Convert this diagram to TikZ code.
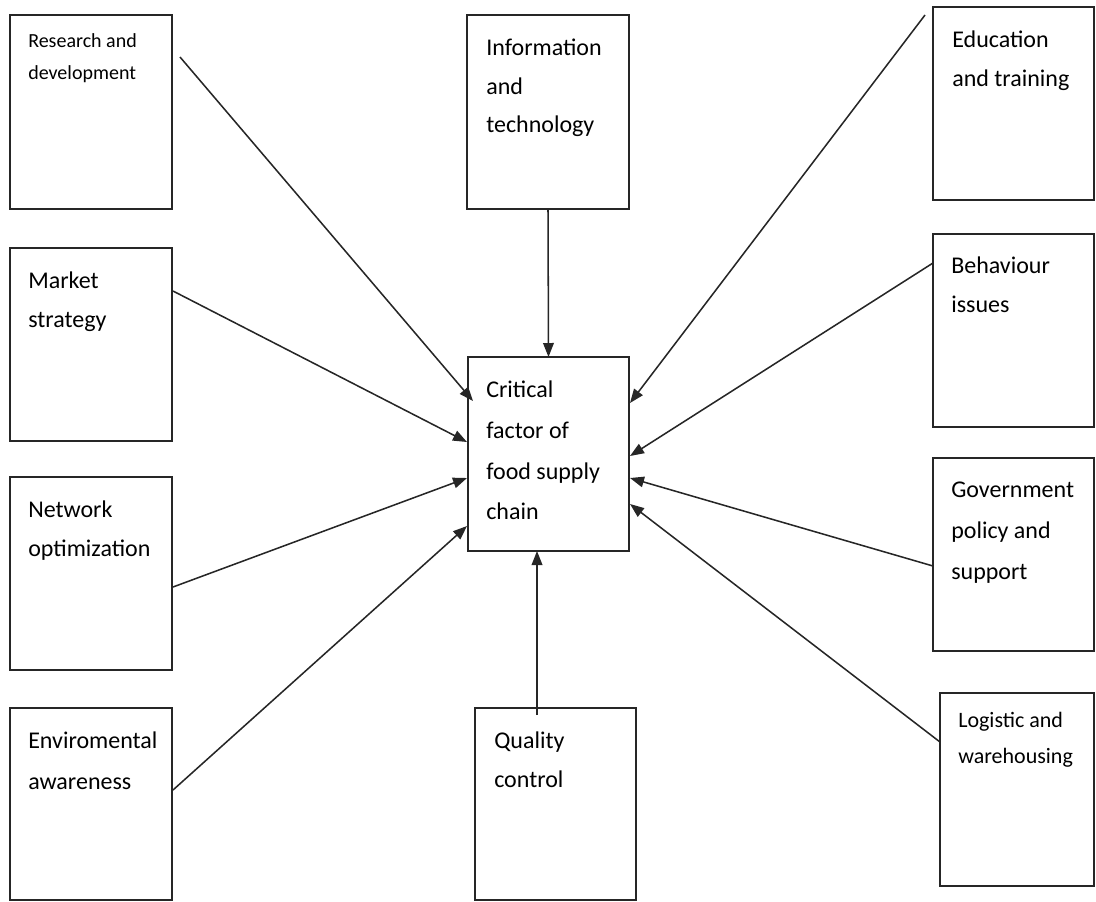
\documentclass[tikz,border=0pt]{standalone}
\usepackage{fontspec}
\setmainfont{Carlito}
\usetikzlibrary{arrows.meta,fit}
\begin{document}
\begin{tikzpicture}[x=0.75pt,y=-0.75pt,
  box/.style={draw=black!85, line width=1.3pt, inner sep=0pt, outer sep=0pt},
  lbl/.style={anchor=north west, inner sep=0pt, align=left, font=\fontsize{18}{29}\selectfont},
  lblsmall/.style={font=\fontsize{15}{24}\selectfont},
  lblmid/.style={font=\fontsize{16.5}{27}\selectfont},
  lblwide/.style={font=\fontsize{18}{30.5}\selectfont},
  arr/.style={draw=black!85, line width=1.15pt, -{Triangle[length=10.5pt,width=8pt]}}]
\useasboundingbox (0,0) rectangle (1096,901);
% boxes
\node[box, fit={(10,15) (172,209)}] (rd) {};
\node[box, fit={(467,15) (629,209)}] (it) {};
\node[box, fit={(933,7) (1094,200)}] (et) {};
\node[box, fit={(10,248) (172,441)}] (ms) {};
\node[box, fit={(933,234) (1094,427)}] (bi) {};
\node[box, fit={(10,477) (172,670)}] (no) {};
\node[box, fit={(933,458) (1094,651)}] (gp) {};
\node[box, fit={(10,708) (172,900)}] (ea) {};
\node[box, fit={(475,708) (636,900)}] (qc) {};
\node[box, fit={(940,693) (1094,886)}] (lw) {};
\node[box, fit={(468,357) (629,551)}] (c) {};
% labels
\node[lbl, lblsmall] (rd-t) at (28,25) {\strut Research and\\development};
\node[lbl] (it-t) at (486,28) {\strut Information\\and\\technology};
\node[lbl] (et-t) at (952,20) {\strut Education\\and training};
\node[lbl] (ms-t) at (28,261) {\strut Market\\strategy};
\node[lbl] (bi-t) at (951,246) {\strut Behaviour\\issues};
\node[lbl] (no-t) at (28,490) {\strut Network\\optimization};
\node[lbl, lblwide] (gp-t) at (951,469) {\strut Government\\policy and\\support};
\node[lbl, lblwide] (ea-t) at (28,720) {\strut Enviromental\\awareness};
\node[lbl] (qc-t) at (494,721) {\strut Quality\\control};
\node[lbl, lblmid] (lw-t) at (958,702) {\strut Logistic and\\warehousing};
\node[lbl, lblwide] (c-t) at (486,369) {\strut Critical\\factor of\\food supply\\chain};
% connector end points
\coordinate (rd-s) at (180,57);
\coordinate (rd-e) at (473,401);
\coordinate (et-s) at (925,15);
\coordinate (et-e) at (630,403);
\coordinate (ms-s) at (173,291);
\coordinate (ms-e) at (467,442);
\coordinate (bi-s) at (933,263);
\coordinate (bi-e) at (630,456);
\coordinate (no-s) at (173,587);
\coordinate (no-e) at (467,478);
\coordinate (gp-s) at (933,566);
\coordinate (gp-e) at (630,478);
\coordinate (ea-s) at (173,790);
\coordinate (ea-e) at (467,526);
\coordinate (lw-s) at (940,742);
\coordinate (lw-e) at (630,504);
\coordinate (qc-s) at (537,715);
\coordinate (qc-e) at (537,551);
% connectors
\draw[arr] (rd-s) -- (rd-e);
\draw[arr] (it.south) -- (c.north);
\draw[arr] (et-s) -- (et-e);
\draw[arr] (ms-s) -- (ms-e);
\draw[arr] (bi-s) -- (bi-e);
\draw[arr] (no-s) -- (no-e);
\draw[arr] (gp-s) -- (gp-e);
\draw[arr] (ea-s) -- (ea-e);
\draw[arr] (lw-s) -- (lw-e);
\draw[arr] (qc-s) -- (qc-e);
\end{tikzpicture}
\end{document}
